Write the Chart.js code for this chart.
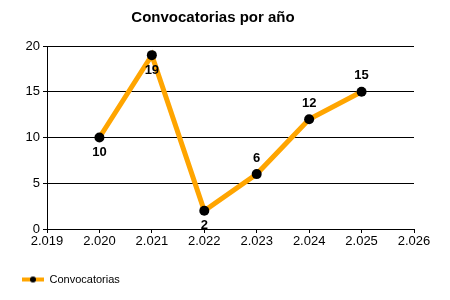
<!DOCTYPE html>
<html>
<head>
<meta charset="utf-8">
<script src="https://cdn.jsdelivr.net/npm/chart.js@4/dist/chart.umd.min.js"></script>
<style>
    html, body { margin: 0; padding: 0; background: #fff; }
    #wrap { width: 450px; height: 300px; }
</style>
</head>
<body>
<div id="wrap"><canvas id="convChart" width="450" height="300"></canvas></div>
<script>
// datos
const years = [2020, 2021, 2022, 2023, 2024, 2025];
const convocatorias = [10, 19, 2, 6, 12, 15];
const xTicks = [2019, 2020, 2021, 2022, 2023, 2024, 2025, 2026];
const yTicks = [0, 5, 10, 15, 20];

// donde va cada etiqueta (abajo / arriba del punto)
const labelSide = ['below', 'below', 'below', 'above', 'above', 'above'];

const FONT = "'Liberation Sans', Arial, sans-serif";
const ORANGE = '#FFA500';

// "2.019" al estilo es-ES con separador de miles
function fmtYear(v) {
    const s = String(v);
    return s.slice(0, 1) + '.' + s.slice(1);
}

// icono de la leyenda: linea naranja con punto negro
function legendIcon() {
    const c = document.createElement('canvas');
    c.width = 22;
    c.height = 8;
    const g = c.getContext('2d');
    g.fillStyle = ORANGE;
    g.fillRect(0, 2, 22, 4);
    g.fillStyle = '#000';
    g.beginPath();
    g.arc(11, 4, 3, 0, Math.PI * 2);
    g.fill();
    return c;
}

const valueLabels = {
    id: 'valueLabels',
    afterDatasetsDraw(chart) {
        const ctx = chart.ctx;
        const meta = chart.getDatasetMeta(0);
        ctx.save();
        ctx.font = 'bold 13px ' + FONT;
        ctx.fillStyle = '#000';
        ctx.textAlign = 'center';
        ctx.textBaseline = 'middle';
        meta.data.forEach((pt, i) => {
            const dy = labelSide[i] === 'above' ? -16 : 15;
            ctx.fillText(String(convocatorias[i]), pt.x, pt.y + dy);
        });
        ctx.restore();
    }
};

const ctx = document.getElementById('convChart');
new Chart(ctx, {
    type: 'line',
    data: {
        datasets: [{
            label: 'Convocatorias',
            data: years.map((y, i) => ({x: y, y: convocatorias[i]})),
            borderColor: ORANGE,
            backgroundColor: '#000',
            borderWidth: 5,
            pointRadius: 5,
            pointBackgroundColor: '#000',
            pointBorderWidth: 0,
            pointStyle: 'circle',
            tension: 0
        }]
    },
    options: {
        responsive: false,
        animation: false,
        layout: {
            padding: {left: 12, right: 36, top: 2, bottom: 5}
        },
        plugins: {
            title: {
                display: true,
                text: 'Convocatorias por año',
                color: '#000',
                font: {family: FONT, size: 15, weight: 'bold'},
                padding: {top: 7, bottom: 19}
            },
            legend: {
                position: 'bottom',
                align: 'start',
                labels: {
                    usePointStyle: true,
                    pointStyleWidth: 22,
                    color: '#000',
                    font: {family: FONT, size: 11},
                    generateLabels: function(chart) {
                        return [{
                            text: 'Convocatorias',
                            pointStyle: legendIcon(),
                            fillStyle: ORANGE,
                            strokeStyle: ORANGE,
                            lineWidth: 0,
                            datasetIndex: 0,
                            fontColor: '#000'
                        }];
                    }
                }
            },
            tooltip: {enabled: false}
        },
        scales: {
            x: {
                type: 'linear',
                min: xTicks[0],
                max: xTicks[xTicks.length - 1],
                afterBuildTicks: function(scale) {
                    scale.ticks = xTicks.map(v => ({value: v}));
                },
                afterFit: function(scale) {
                    scale.height = 35;
                },
                grid: {
                    drawOnChartArea: false,
                    color: '#000',
                    tickLength: 4
                },
                border: {color: '#000'},
                ticks: {
                    color: '#000',
                    font: {family: FONT, size: 13},
                    padding: 1,
                    maxRotation: 0,
                    callback: function(value) {
                        return fmtYear(value);
                    }
                }
            },
            y: {
                min: yTicks[0],
                max: yTicks[yTicks.length - 1],
                afterBuildTicks: function(scale) {
                    scale.ticks = yTicks.map(v => ({value: v}));
                },
                afterFit: function(scale) {
                    scale.width = 35;
                },
                grid: {
                    color: '#000',
                    tickLength: 4
                },
                border: {color: '#000'},
                ticks: {
                    color: '#000',
                    font: {family: FONT, size: 13},
                    padding: 3
                }
            }
        }
    },
    plugins: [valueLabels]
});
</script>
</body>
</html>
